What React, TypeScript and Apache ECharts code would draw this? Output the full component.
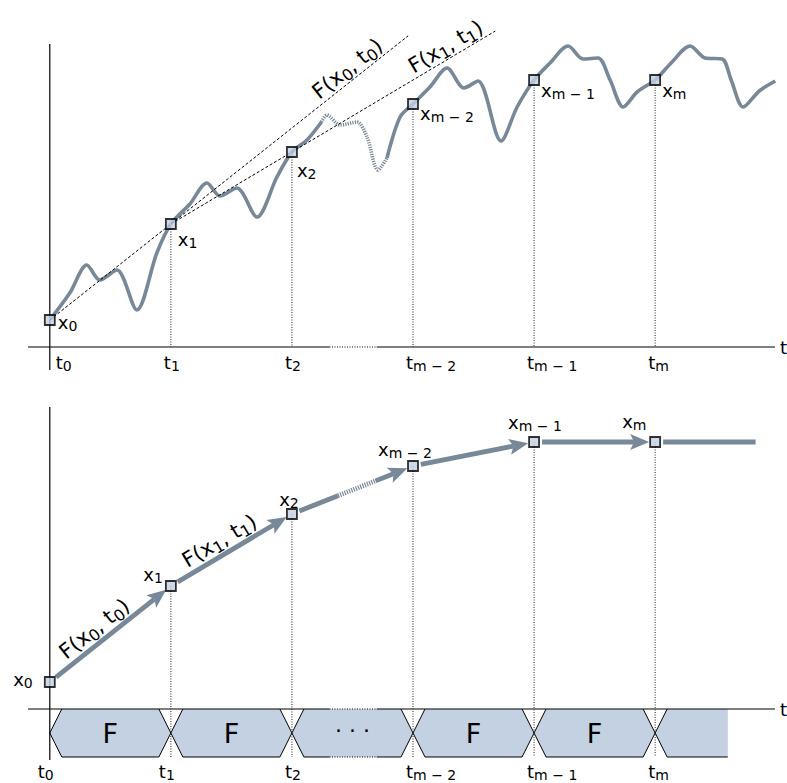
import React, { useEffect, useRef } from "react";
import * as echarts from "echarts";

// ---------- data ----------
const STEP_T = [0, 1, 2, 3, 4, 5];
const STEP_SUB = ["0", "1", "2", "m − 2", "m − 1", "m"];
const STATE_X = [27, 123, 195, 243, 267, 267];

const WAVE_SOLID_A: number[][] = [
  [0, 27], [0.165, 54], [0.306, 82], [0.413, 67], [0.554, 77], [0.719, 37], [0.884, 94],
  [1, 123], [1.157, 143], [1.298, 164], [1.405, 151], [1.545, 159], [1.711, 130], [1.876, 170],
  [2, 195], [2.124, 207], [2.244, 225],
];
const WAVE_GAP: number[][] = [
  [2.244, 225], [2.289, 232], [2.397, 222], [2.537, 225], [2.62, 210], [2.711, 177], [2.785, 189],
];
const WAVE_SOLID_B: number[][] = [
  [2.785, 189], [2.893, 230], [3, 243], [3.14, 260], [3.281, 279], [3.421, 259], [3.537, 266],
  [3.727, 206], [3.86, 240], [4, 267], [4.132, 284], [4.281, 301], [4.405, 288], [4.529, 289],
  [4.628, 267], [4.736, 240], [4.851, 255], [5, 267], [5.132, 284], [5.289, 301], [5.413, 289],
  [5.554, 288], [5.628, 267], [5.727, 240], [5.86, 256], [5.992, 266],
];
const TANGENT_END_T = [2.96, 3.68];
const TANGENT_LABEL_T = [2.52, 3.32];
const FLOW_STEPS: number[][] = [[0, 1], [1, 2], [2, 3], [3, 4], [4, 5], [5, 5.6]];
const FLOW_TEXT = ["F", "F", "· · ·", "F", "F", ""];
const AXIS_GAP_T = [2.31, 2.7];
const ARROW_GAP_T = [2.38, 2.69];
const TAIL_T = 5.83;
const BAND_DEPTH = -48;
const ARROW_LABEL_FRAC = [0.44, 0.46];

// ---------- style ----------
const FONT = "DejaVu Sans";
const INK = "#000";
const SLATE = "#778899";
const PALE = "#c3d1e3";
const X_MIN = -0.18;
const X_MAX = 5.99;
const TOP_Y = [-23, 303];
const BOT_Y = [-51, 302];

const TOP_LABEL_POS = [[8, 2], [7, 15], [5, 18], [7, 9], [7, 10], [7, 10]];
const BOT_LABEL_POS: [string, number, number][] = [
  ["right", -17, -3], ["right", -8, -12], ["center", -3, -15],
  ["left", -35, -17], ["left", -26, -20], ["left", -33, -21],
];
const TOP_T_DX = [6, -7, -7, -7, -7, -7];
const BOT_T_DX = [-12, -12, -7, -7, -7, -7];

const RICH = {
  m: { fontSize: 18, fontFamily: FONT, fill: INK, lineHeight: 22 },
  s: { fontSize: 14, fontFamily: FONT, fill: INK, lineHeight: 12, verticalAlign: "bottom" },
};
const RICH_F = {
  m: { fontSize: 21, fontFamily: FONT, fill: INK, lineHeight: 26 },
  s: { fontSize: 16, fontFamily: FONT, fill: INK, lineHeight: 14, verticalAlign: "bottom" },
};
const subText = (main: string, s: string) => `{m|${main}}{s|${s}}`;
const fText = (i: number) => `{m|F(x}{s|${STEP_SUB[i]}}{m|, t}{s|${STEP_SUB[i]}}{m|)}`;

function richText(x: number, y: number, text: string, align: string, rotation = 0, rich: any = RICH) {
  return {
    type: "text",
    x,
    y,
    rotation,
    style: { text, rich, align, verticalAlign: "middle", fontSize: 18, fontFamily: FONT, fill: INK },
  };
}

function buildOption() {
  const points = STEP_T.map((t, i) => [t, STATE_X[i]]);

  const axisRender = (yr: number[]) => (params: any, api: any) => {
    const [xa, y] = api.coord([X_MIN, 0]);
    const [g0] = api.coord([AXIS_GAP_T[0], 0]);
    const [g1] = api.coord([AXIS_GAP_T[1], 0]);
    const [xb] = api.coord([X_MAX, 0]);
    const [y0x, yTop] = api.coord([0, yr[1]]);
    const [, yBot] = api.coord([0, yr[0]]);
    const solid = { stroke: INK, lineWidth: 1.2 };
    return {
      type: "group",
      children: [
        { type: "line", shape: { x1: y0x, y1: yTop, x2: y0x, y2: yBot }, style: solid },
        { type: "line", shape: { x1: xa, y1: y, x2: g0, y2: y }, style: solid },
        { type: "line", shape: { x1: g0, y1: y, x2: g1, y2: y }, style: { stroke: INK, lineWidth: 1, lineDash: [1, 1.5] } },
        { type: "line", shape: { x1: g1, y1: y, x2: xb, y2: y }, style: solid },
        { type: "text", x: xb + 5, y, style: { text: "t", fontSize: 18, fontFamily: FONT, fill: INK, align: "left", verticalAlign: "middle" } },
      ],
    };
  };

  const dropRender = (bottomVal: number) => (params: any, api: any) => {
    const i = params.dataIndex;
    if (i === 0) return null;
    const a = api.coord(points[i]);
    const b = api.coord([STEP_T[i], bottomVal]);
    return {
      type: "line",
      shape: { x1: a[0], y1: a[1], x2: b[0], y2: b[1] },
      style: { stroke: "#222", lineWidth: 1, lineDash: [1, 1.5] },
    };
  };

  const tangentRender = (params: any, api: any) => {
    const i = params.dataIndex;
    const a = api.coord(points[i]);
    const b = api.coord(points[i + 1]);
    const span = STEP_T[i + 1] - STEP_T[i];
    const s = (TANGENT_END_T[i] - STEP_T[i]) / span;
    const e = [a[0] + (b[0] - a[0]) * s, a[1] + (b[1] - a[1]) * s];
    const ls = (TANGENT_LABEL_T[i] - STEP_T[i]) / span;
    const lp = [a[0] + (b[0] - a[0]) * ls, a[1] + (b[1] - a[1]) * ls];
    const ang = Math.atan2(a[1] - b[1], b[0] - a[0]);
    const off = 12;
    return {
      type: "group",
      children: [
        { type: "line", shape: { x1: a[0], y1: a[1], x2: e[0], y2: e[1] }, style: { stroke: INK, lineWidth: 1, lineDash: [3, 2] } },
        richText(lp[0] - Math.sin(ang) * off, lp[1] - Math.cos(ang) * off, fText(i), "center", ang, RICH_F),
      ],
    };
  };

  const bandRender = (params: any, api: any) => {
    const idx = params.dataIndex;
    const t0 = api.value(0);
    const t1 = api.value(1);
    const [xa, yTop] = api.coord([t0, 0]);
    const [xb] = api.coord([t1, 0]);
    const [, yBot] = api.coord([t0, BAND_DEPTH]);
    const mid = (yTop + yBot) / 2;
    const ind = (yBot - yTop) / 4;
    const closed = idx < FLOW_STEPS.length - 1;
    const poly = closed
      ? [[xa, mid], [xa + ind, yTop], [xb - ind, yTop], [xb, mid], [xb - ind, yBot], [xa + ind, yBot]]
      : [[xa, mid], [xa + ind, yTop], [xb, yTop], [xb, yBot], [xa + ind, yBot]];
    const stroke = { stroke: INK, lineWidth: 1, fill: null };
    const children: any[] = [
      { type: "polygon", shape: { points: poly }, style: { fill: PALE, stroke: null } },
      { type: "polyline", shape: { points: [[xa + ind, yTop], [xa, mid], [xa + ind, yBot]] }, style: stroke },
    ];
    if (closed) {
      children.push({ type: "polyline", shape: { points: [[xb - ind, yTop], [xb, mid], [xb - ind, yBot]] }, style: stroke });
    }
    const bx0 = xa + ind;
    const bx1 = closed ? xb - ind : xb;
    if (AXIS_GAP_T[0] > t0 && AXIS_GAP_T[1] < t1) {
      const [g0] = api.coord([AXIS_GAP_T[0], 0]);
      const [g1] = api.coord([AXIS_GAP_T[1], 0]);
      children.push({ type: "line", shape: { x1: bx0, y1: yBot, x2: g0, y2: yBot }, style: stroke });
      children.push({ type: "line", shape: { x1: g0, y1: yBot, x2: g1, y2: yBot }, style: { stroke: INK, lineWidth: 1, lineDash: [1, 1.5] } });
      children.push({ type: "line", shape: { x1: g1, y1: yBot, x2: bx1, y2: yBot }, style: stroke });
    } else {
      children.push({ type: "line", shape: { x1: bx0, y1: yBot, x2: bx1, y2: yBot }, style: stroke });
    }
    const label = FLOW_TEXT[idx];
    if (label) {
      const isDots = label !== "F";
      children.push({
        type: "text",
        x: (xa + xb) / 2,
        y: mid + (isDots ? -3 : 0),
        style: { text: label, fontSize: isDots ? 22 : 27, fontFamily: FONT, fill: INK, align: "center", verticalAlign: "middle" },
      });
    }
    return { type: "group", children };
  };

  const arrowRender = (params: any, api: any) => {
    const i = params.dataIndex;
    const hasNext = i < points.length - 1;
    const a = api.coord(points[i]);
    const b = api.coord(hasNext ? points[i + 1] : [TAIL_T, STATE_X[i]]);
    const dx = b[0] - a[0];
    const dy = b[1] - a[1];
    const L = Math.hypot(dx, dy);
    const ux = dx / L;
    const uy = dy / L;
    const st = [a[0] + ux * 8, a[1] + uy * 8];
    const shaft = { stroke: SLATE, lineWidth: 4.8 };
    const children: any[] = [];
    if (!hasNext) {
      children.push({ type: "line", shape: { x1: st[0], y1: st[1], x2: b[0], y2: b[1] }, style: shaft });
      return { type: "group", children };
    }
    const tip = [b[0] - ux * 6, b[1] - uy * 6];
    const HL = 19;
    const HW = 8;
    const base = [tip[0] - ux * HL, tip[1] - uy * HL];
    const nx = -uy;
    const ny = ux;
    const shEnd = [base[0] + ux * 4, base[1] + uy * 4];
    const t0 = STEP_T[i];
    const t1 = STEP_T[i + 1];
    if (ARROW_GAP_T[0] > t0 && ARROW_GAP_T[1] < t1) {
      const f0 = (ARROW_GAP_T[0] - t0) / (t1 - t0);
      const f1 = (ARROW_GAP_T[1] - t0) / (t1 - t0);
      const p0 = [a[0] + dx * f0, a[1] + dy * f0];
      const p1 = [a[0] + dx * f1, a[1] + dy * f1];
      children.push({ type: "line", shape: { x1: st[0], y1: st[1], x2: p0[0], y2: p0[1] }, style: shaft });
      children.push({ type: "line", shape: { x1: p0[0], y1: p0[1], x2: p1[0], y2: p1[1] }, style: { ...shaft, lineDash: [1.2, 1.2] } });
      children.push({ type: "line", shape: { x1: p1[0], y1: p1[1], x2: shEnd[0], y2: shEnd[1] }, style: shaft });
    } else {
      children.push({ type: "line", shape: { x1: st[0], y1: st[1], x2: shEnd[0], y2: shEnd[1] }, style: shaft });
    }
    children.push({
      type: "polygon",
      shape: {
        points: [
          tip,
          [base[0] + nx * HW, base[1] + ny * HW],
          [base[0] + ux * 4, base[1] + uy * 4],
          [base[0] - nx * HW, base[1] - ny * HW],
        ],
      },
      style: { fill: SLATE, stroke: null },
    });
    if (i < ARROW_LABEL_FRAC.length) {
      const f = ARROW_LABEL_FRAC[i];
      const lp = [a[0] + dx * f, a[1] + dy * f];
      const ang = Math.atan2(-dy, dx);
      const off = 14;
      children.push(richText(lp[0] - Math.sin(ang) * off, lp[1] - Math.cos(ang) * off, fText(i), "center", ang, RICH_F));
    }
    return { type: "group", children };
  };

  const topLabelRender = (params: any, api: any) => {
    const i = params.dataIndex;
    const [x, y] = api.coord(points[i]);
    const [dx, dy] = TOP_LABEL_POS[i];
    return richText(x + dx, y + dy, subText("x", STEP_SUB[i]), "left");
  };
  const botLabelRender = (params: any, api: any) => {
    const i = params.dataIndex;
    const [x, y] = api.coord(points[i]);
    const [al, dx, dy] = BOT_LABEL_POS[i];
    return richText(x + dx, y + dy, subText("x", STEP_SUB[i]), al);
  };
  const tickRender = (dxs: number[], baseVal: number, gap: number) => (params: any, api: any) => {
    const i = params.dataIndex;
    const [x, y] = api.coord([STEP_T[i], baseVal]);
    return richText(x + dxs[i], y + gap, subText("t", STEP_SUB[i]), "left");
  };

  const markerStyle = { color: PALE, borderColor: INK, borderWidth: 1.8 };
  const waveLine = (data: number[][], dashed: boolean) => ({
    type: "line",
    xAxisIndex: 0,
    yAxisIndex: 0,
    data,
    smooth: 0.3,
    symbol: "none",
    z: 3,
    lineStyle: { color: SLATE, width: 3.6, type: dashed ? [1.2, 1.2] : "solid" },
  });

  const axisCommon = {
    type: "value",
    axisLine: { show: false },
    axisTick: { show: false },
    axisLabel: { show: false },
    splitLine: { show: false },
  };

  const single = [[0, 0]];

  return {
    animation: false,
    backgroundColor: "#fff",
    grid: [
      { left: 28, right: 12, top: 44, height: 326 },
      { left: 28, right: 12, top: 407, height: 353 },
    ],
    xAxis: [
      { ...axisCommon, gridIndex: 0, min: X_MIN, max: X_MAX },
      { ...axisCommon, gridIndex: 1, min: X_MIN, max: X_MAX },
    ],
    yAxis: [
      { ...axisCommon, gridIndex: 0, min: TOP_Y[0], max: TOP_Y[1] },
      { ...axisCommon, gridIndex: 1, min: BOT_Y[0], max: BOT_Y[1] },
    ],
    series: [
      // top panel
      { type: "custom", xAxisIndex: 0, yAxisIndex: 0, data: single, z: 2, renderItem: axisRender(TOP_Y) },
      { type: "custom", xAxisIndex: 0, yAxisIndex: 0, data: points, z: 2, renderItem: dropRender(0) },
      waveLine(WAVE_SOLID_A, false),
      waveLine(WAVE_GAP, true),
      waveLine(WAVE_SOLID_B, false),
      { type: "custom", xAxisIndex: 0, yAxisIndex: 0, data: points.slice(0, 2), z: 4, renderItem: tangentRender },
      { type: "scatter", xAxisIndex: 0, yAxisIndex: 0, data: points, symbol: "rect", symbolSize: 10, itemStyle: markerStyle, z: 6 },
      { type: "custom", xAxisIndex: 0, yAxisIndex: 0, data: points, z: 7, renderItem: topLabelRender },
      { type: "custom", xAxisIndex: 0, yAxisIndex: 0, data: points, z: 7, renderItem: tickRender(TOP_T_DX, 0, 15) },
      // bottom panel
      { type: "custom", xAxisIndex: 1, yAxisIndex: 1, data: FLOW_STEPS, z: 1, renderItem: bandRender },
      { type: "custom", xAxisIndex: 1, yAxisIndex: 1, data: single, z: 2, renderItem: axisRender(BOT_Y) },
      { type: "custom", xAxisIndex: 1, yAxisIndex: 1, data: points, z: 2, renderItem: dropRender(BAND_DEPTH) },
      { type: "custom", xAxisIndex: 1, yAxisIndex: 1, data: points, z: 3, renderItem: arrowRender },
      { type: "scatter", xAxisIndex: 1, yAxisIndex: 1, data: points, symbol: "rect", symbolSize: 10, itemStyle: markerStyle, z: 6 },
      { type: "custom", xAxisIndex: 1, yAxisIndex: 1, data: points, z: 7, renderItem: botLabelRender },
      { type: "custom", xAxisIndex: 1, yAxisIndex: 1, data: points, z: 7, renderItem: tickRender(BOT_T_DX, BAND_DEPTH, 14) },
    ],
  };
}

export default function App() {
  const ref = useRef<HTMLDivElement>(null);
  useEffect(() => {
    const chart = echarts.init(ref.current!, null, { renderer: "svg" });
    chart.setOption(buildOption() as any);
    return () => chart.dispose();
  }, []);
  return (
    <div
      ref={ref}
      style={{ position: "fixed", left: 0, top: 0, width: 787, height: 783, background: "#fff" }}
    />
  );
}
